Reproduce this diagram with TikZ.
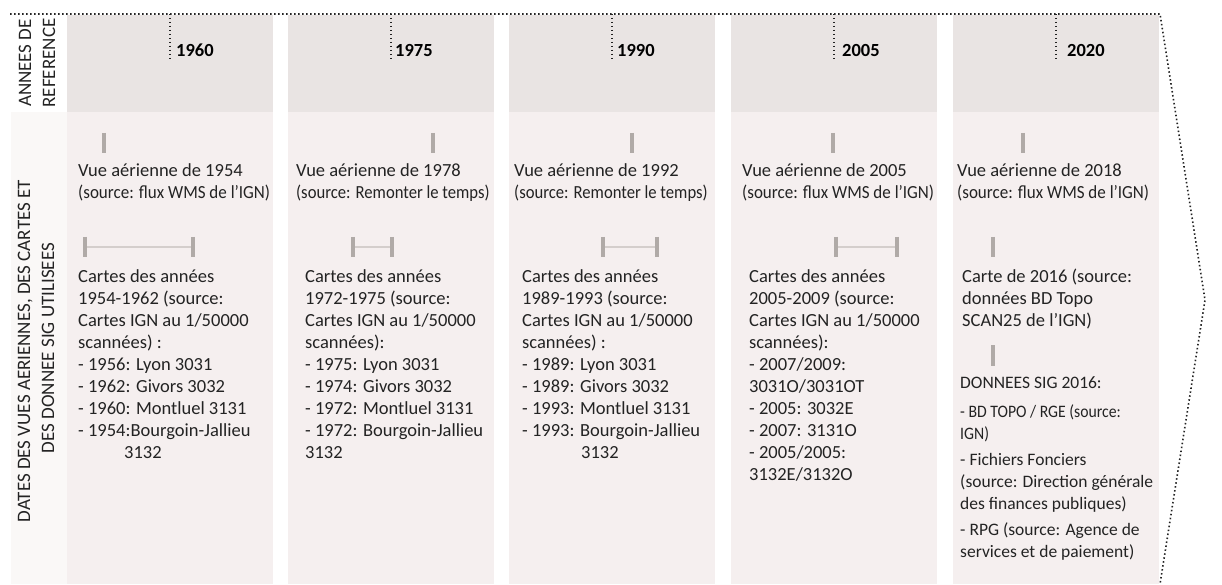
\documentclass[tikz,border=0pt]{standalone}
\usepackage{fontspec}
\setmainfont{Carlito}
\usepackage{graphicx}
\definecolor{headfill}{RGB}{233,228,227}
\definecolor{bodyfill}{RGB}{245,239,239}
\definecolor{stripfill}{RGB}{250,248,247}
\definecolor{barcol}{RGB}{176,170,167}
\definecolor{barline}{RGB}{212,206,204}
\definecolor{txtcol}{RGB}{35,35,35}
\definecolor{dotcol}{RGB}{35,35,35}
\newcommand{\cnd}[2][0.93]{\scalebox{#1}[1]{#2}}
\newcommand{\blk}[1]{\begin{tabular}[t]{@{}l@{}}#1\end{tabular}}
\tikzset{
  headbox/.style={fill=headfill},
  bodybox/.style={fill=bodyfill},
  dotline/.style={draw=dotcol, line width=1.6pt, dash pattern=on 1.5pt off 2.5pt},
  yeartxt/.style={inner sep=0pt, anchor=base west, font=\fontsize{18.5}{22}\selectfont\bfseries, text=black},
  bodytxt/.style={inner sep=0pt, anchor=base west, font=\fontsize{18.5}{22}\selectfont, text=txtcol},
  sigtxt/.style={inner sep=0pt, anchor=base west, font=\fontsize{17.5}{22}\selectfont, text=txtcol},
  sidetxt/.style={inner sep=0pt, anchor=base, rotate=90, text=txtcol},
  tickbar/.style={draw=barcol, line width=3.8pt},
  rangeline/.style={draw=barline, line width=2.5pt}
}
\begin{document}
\begin{tikzpicture}[x=1pt,y=-1pt]
\useasboundingbox (0,0) rectangle (1222,585);
\fill[white] (0,0) rectangle (1222,585);
% left strip
\fill[stripfill] (11,112) rectangle (67,584);
% columns
\foreach \x in {67,288,509,731,953}{
  \fill[headbox] (\x,15) rectangle ++(206,97);
  \fill[bodybox] (\x,112) rectangle ++(206,472);
}
% dotted frame and arrow
\coordinate (tl) at (10,14);
\coordinate (tr) at (1160,14);
\coordinate (tip) at (1205,300);
\coordinate (br) at (1160,584);
\draw[dotline] (tl) -- (tr) -- (tip) -- (br);
% year ticks and labels
\foreach \t/\lx/\yr in {170/176/1960, 391/395/1975, 612/617/1990, 834/842/2005, 1056/1067/2020}{
  \draw[dotline] (\t,14) -- (\t,60);
  \node[yeartxt] (y\yr) at (\lx,57) {\yr};
}
% side labels
\node[sidetxt, font=\fontsize{19}{22}\selectfont] (sa) at (31,63) {ANNEES DE};
\node[sidetxt, font=\fontsize{19}{22}\selectfont] (sb) at (55,63) {REFERENCE};
\node[sidetxt, font=\fontsize{19}{22}\selectfont] (sc) at (30,351) {DATES DES VUES AERIENNES, DES CARTES ET};
\node[sidetxt, font=\fontsize{19}{22}\selectfont] (sd) at (54,348) {DES DONNEE SIG UTILISEES};
% single ticks for aerial views
\foreach \x in {104,433,632,833,1023}{
  \draw[tickbar] (\x,133) -- (\x,153);
}
% range bars for maps
\foreach \a/\b in {85/193, 353/392, 603/657, 836/897}{
  \draw[rangeline] (\a,247) -- (\b,247);
  \draw[tickbar] (\a,237) -- (\a,257);
  \draw[tickbar] (\b,237) -- (\b,257);
}
% col5 ticks
\draw[tickbar] (993,237) -- (993,257);
\draw[tickbar] (993,345) -- (993,366);
% column 1
\node[bodytxt] (v1) at (78,177) {\blk{Vue aérienne de 1954\\ \cnd[0.92]{(source: flux WMS de l’IGN)}}};
\node[bodytxt] (c1) at (78,282) {\blk{Cartes des années\\ 1954-1962 (source:\\ Cartes IGN au 1/50000\\ scannées) :\\ - 1956: Lyon 3031\\ - 1962: Givors 3032\\ - 1960: Montluel 3131\\ - 1954:Bourgoin-Jallieu\\ \hspace*{46pt}3132}};
% column 2
\node[bodytxt] (v2) at (296,177) {\blk{Vue aérienne de 1978\\ \cnd[0.9]{(source: Remonter le temps)}}};
\node[bodytxt] (c2) at (305,282) {\blk{Cartes des années\\ 1972-1975 (source:\\ Cartes IGN au 1/50000\\ scannées):\\ - 1975: Lyon 3031\\ - 1974: Givors 3032\\ - 1972: Montluel 3131\\ - 1972: Bourgoin-Jallieu\\ 3132}};
% column 3
\node[bodytxt] (v3) at (514,177) {\blk{Vue aérienne de 1992\\ \cnd[0.9]{(source: Remonter le temps)}}};
\node[bodytxt] (c3) at (522,282) {\blk{Cartes des années\\ 1989-1993 (source:\\ Cartes IGN au 1/50000\\ scannées) :\\ - 1989: Lyon 3031\\ - 1989: Givors 3032\\ - 1993: Montluel 3131\\ - 1993: Bourgoin-Jallieu\\ \hspace*{59pt}3132}};
% column 4
\node[bodytxt] (v4) at (742,177) {\blk{Vue aérienne de 2005\\ \cnd[0.92]{(source: flux WMS de l’IGN)}}};
\node[bodytxt] (c4) at (749,282) {\blk{Cartes des années\\ 2005-2009 (source:\\ Cartes IGN au 1/50000\\ scannées):\\ - 2007/2009:\\ 3031O/3031OT\\ - 2005: 3032E\\ - 2007: 3131O\\ - 2005/2005:\\ 3132E/3132O}};
% column 5
\node[bodytxt] (v5) at (957,177) {\blk{Vue aérienne de 2018\\ \cnd[0.92]{(source: flux WMS de l’IGN)}}};
\node[bodytxt] (c5) at (962,282) {\blk{Carte de 2016 (source:\\ données BD Topo\\ SCAN25 de l’IGN)}};
\node[sigtxt] (g5) at (960,388) {\blk{DONNEES SIG 2016:\\[7pt] \cnd[0.9]{- BD TOPO / RGE (source:}\\ \cnd[0.9]{IGN)}\\[4pt] - Fichiers Fonciers\\ (source: Direction générale\\ des finances publiques)\\[4pt] - RPG (source: Agence de\\ services et de paiement)}};
\end{tikzpicture}
\end{document}
